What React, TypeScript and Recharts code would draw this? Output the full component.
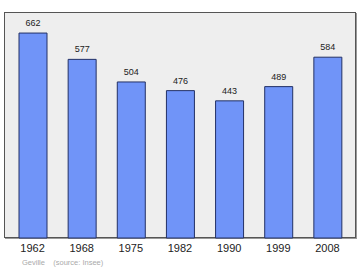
import { BarChart, Bar, XAxis, YAxis, LabelList } from "recharts";

const years = ["1962", "1968", "1975", "1982", "1990", "1999", "2008"];
const population = [662, 577, 504, 476, 443, 489, 584];

const data = years.map((year, i) => ({ year, population: population[i] }));

const FONT = "'Liberation Sans', Arial, sans-serif";

export default function App() {
  return (
    <div style={{ position: "absolute", left: 0, top: 0, width: 360, height: 270, fontFamily: FONT, background: "#fff" }}>
      {/* plot frame */}
      <div
        style={{
          position: "absolute",
          left: 4,
          top: 12,
          width: 350,
          height: 224,
          background: "#eeeeee",
          border: "1px solid #555",
          boxShadow: "1px 1px 0 #999",
        }}
      />
      <div style={{ position: "absolute", left: 0, top: 0 }}>
        <BarChart width={360} height={270} data={data} margin={{ top: 12, right: 4, bottom: 0, left: 4 }}>
          <XAxis
            dataKey="year"
            axisLine={false}
            tickLine={false}
            padding={{ left: 4, right: 4 }}
            height={32}
            tick={{ fill: "#222", fontSize: 11, fontFamily: FONT }}
            tickMargin={0}
          />
          <YAxis hide domain={[0, 730]} />
          <Bar dataKey="population" fill="#7094f8" stroke="#233166" strokeWidth={1} barSize={28} isAnimationActive={false}>
            <LabelList dataKey="population" position="top" offset={7} style={{ fill: "#222", fontSize: 9, fontFamily: FONT }} />
          </Bar>
        </BarChart>
      </div>
      <div style={{ position: "absolute", left: 22, top: 258, fontSize: 7.5, color: "#aaa", whiteSpace: "pre" }}>
        {"Geville    (source: Insee)"}
      </div>
    </div>
  );
}
